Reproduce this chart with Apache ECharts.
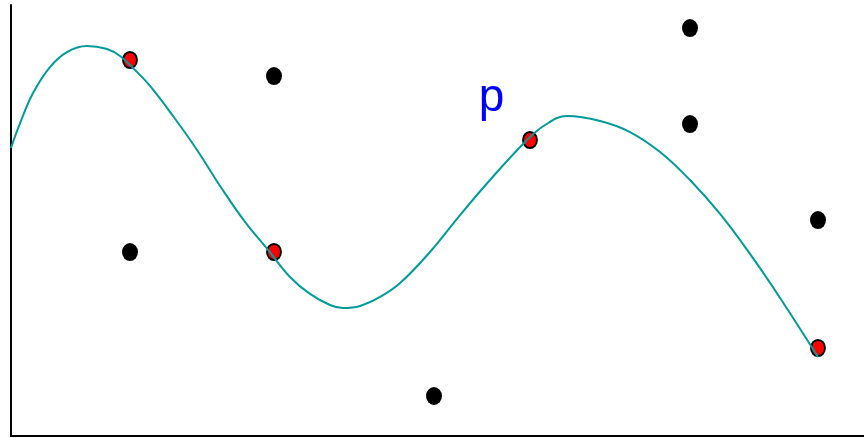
<!DOCTYPE html>
<html>
<head>
<meta charset="utf-8">
<script src="https://cdn.jsdelivr.net/npm/echarts@6/dist/echarts.min.js"></script>
<style>
  html, body { margin: 0; padding: 0; background: #fff; }
  #chart { width: 864px; height: 438px; }
</style>
</head>
<body>
<div id="chart"></div>
<script>
// black points
const blackX = [8, 17, 27, 43, 43, 51]
const blackY = [12, 23, 3, 26, 20, 14]
// red points
const redX = [8, 17, 33, 51]
const redY = [24, 12, 19, 6]
// curve, points
const curveX = [0.56, 1.13, 1.94, 3.0, 4.06, 5.31, 6.56, 7.38, 8.31, 9.25, 10.69, 12.19,
  13.63, 15.19, 16.63, 18.0, 19.25, 20.5, 21.31, 22.38, 23.63, 24.88, 26.75, 28.63, 30.5,
  32.69, 33.94, 35.31, 37.38, 39.25, 41.13, 43.0, 44.88, 46.75, 48.63, 51.0]
const curveY = [18.5, 20.06, 21.94, 23.56, 24.5, 24.88, 24.69, 24.25, 23.38, 22.38, 20.5, 18.38,
  16.13, 13.88, 12.13, 10.44, 9.38, 8.69, 8.5, 8.63, 9.19, 10.06, 12.0, 14.31, 16.5,
  18.88, 19.94, 20.5, 20.19, 19.5, 18.25, 16.5, 14.38, 11.88, 9.13, 5.44]
// text label
const labelText = 'p'
const labelPos = [30.6, 21.6]

const zip = (xs, ys) => xs.map((x, i) => [x, ys[i]])

const chart = echarts.init(document.getElementById('chart'))

chart.setOption({
  animation: false,
  grid: { left: 11, right: 0, top: 5, bottom: 2 },
  xAxis: {
    type: 'value', min: 0.5625, max: 53.875,
    axisLine: { show: true, onZero: false, lineStyle: { color: '#000', width: 2 } },
    axisTick: { show: false }, axisLabel: { show: false }, splitLine: { show: false },
  },
  yAxis: {
    type: 'value', min: 0.5, max: 27.44,
    axisLine: { show: true, onZero: false, lineStyle: { color: '#000', width: 2 } },
    axisTick: { show: false }, axisLabel: { show: false }, splitLine: { show: false },
  },
  series: [
    {
      type: 'scatter', data: zip(redX, redY), symbol: 'circle', symbolSize: [14, 16],
      itemStyle: { color: '#ff0000', borderColor: '#000', borderWidth: 2, opacity: 1 }, z: 2,
    },
    {
      type: 'line', data: zip(curveX, curveY), smooth: 0.4, showSymbol: false,
      lineStyle: { color: '#009b9b', width: 2 }, z: 3,
    },
    {
      type: 'scatter', data: zip(blackX, blackY), symbol: 'circle', symbolSize: [16, 18],
      itemStyle: { color: '#000', opacity: 1 }, z: 4,
    },
    {
      type: 'scatter', data: [labelPos], symbolSize: 0,
      itemStyle: { opacity: 1 },
      label: {
        show: true, position: 'inside', formatter: labelText,
        color: '#0000ff', fontSize: 46, fontFamily: 'Liberation Sans',
      },
    },
  ],
})
</script>
</body>
</html>
